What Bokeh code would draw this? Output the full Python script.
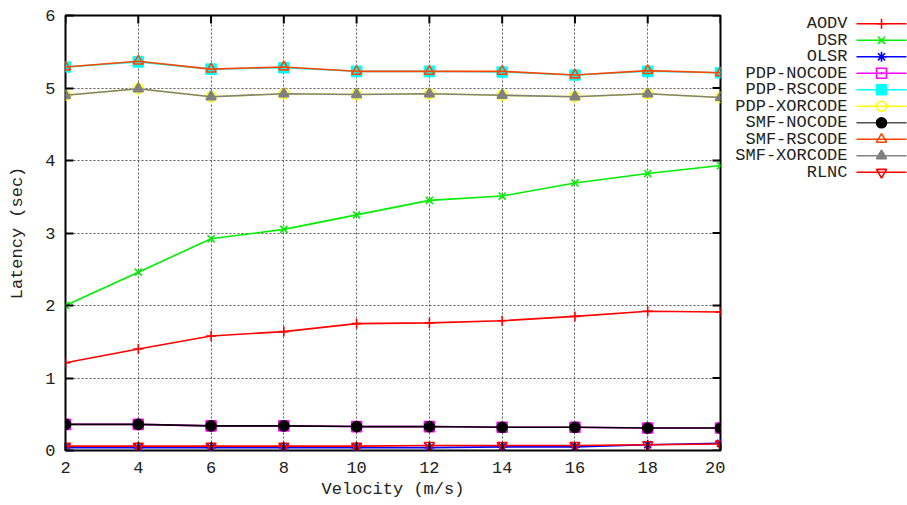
from bokeh.plotting import figure
from bokeh.models import Range1d, FixedTicker, ColumnDataSource
from bokeh.layouts import row
from bokeh.embed import file_html
from bokeh.resources import INLINE
from bokeh.core.properties import value

# ---- data ----
velocity = [2, 4, 6, 8, 10, 12, 14, 16, 18, 20]
aodv = [1.21, 1.40, 1.58, 1.64, 1.75, 1.76, 1.79, 1.85, 1.92, 1.91]
dsr = [2.00, 2.46, 2.92, 3.05, 3.25, 3.45, 3.51, 3.69, 3.82, 3.93]
olsr = [0.04, 0.04, 0.04, 0.04, 0.04, 0.04, 0.05, 0.05, 0.08, 0.10]
pdp_nocode = [0.36, 0.36, 0.34, 0.34, 0.33, 0.33, 0.32, 0.32, 0.31, 0.31]
pdp_rscode = [5.29, 5.36, 5.26, 5.28, 5.23, 5.23, 5.22, 5.18, 5.23, 5.21]
pdp_xorcode = [4.90, 4.99, 4.88, 4.92, 4.91, 4.92, 4.90, 4.88, 4.92, 4.87]
smf_nocode = [0.36, 0.36, 0.34, 0.34, 0.33, 0.33, 0.32, 0.32, 0.31, 0.31]
smf_rscode = [5.29, 5.37, 5.26, 5.29, 5.23, 5.23, 5.23, 5.18, 5.24, 5.21]
smf_xorcode = [4.90, 4.99, 4.88, 4.92, 4.91, 4.92, 4.90, 4.88, 4.92, 4.87]
rlnc = [0.06, 0.06, 0.06, 0.06, 0.06, 0.07, 0.07, 0.07, 0.08, 0.09]

x_ticks = [2, 4, 6, 8, 10, 12, 14, 16, 18, 20]
y_ticks = [0, 1, 2, 3, 4, 5, 6]

series_names = ["AODV", "DSR", "OLSR", "PDP-NOCODE", "PDP-RSCODE", "PDP-XORCODE",
                "SMF-NOCODE", "SMF-RSCODE", "SMF-XORCODE", "RLNC"]
series_values = [aodv, dsr, olsr, pdp_nocode, pdp_rscode, pdp_xorcode,
                 smf_nocode, smf_rscode, smf_xorcode, rlnc]
series_colors = ["#ff0000", "#00ee00", "#0000ff", "#ff00ff", "#00ffff", "#ffff00",
                 "#000000", "#ff4500", "#808080", "#ff0000"]
series_markers = ["cross", "x", "asterisk", "square_dot", "square", "circle",
                  "circle", "triangle", "triangle", "inverted_triangle"]
series_filled = [False, False, False, False, True, False, True, False, True, False]
legend_line_colors = ["#ff0000", "#00ee00", "#0000ff", "#ff00ff", "#00ffff", "#ffff00",
                      "#505050", "#ff4500", "#808080", "#ff0000"]

FONT = "Liberation Mono"
FS = "17px"
H = 505
TOP = 15
BOTTOM = 450

p = figure(width=725, height=H, output_backend="svg", toolbar_location=None,
           x_range=Range1d(2, 20), y_range=Range1d(0, 6),
           min_border_left=65, min_border_right=5, min_border_top=TOP,
           min_border_bottom=H - BOTTOM)
p.outline_line_color = "black"
p.outline_line_width = 2
p.background_fill_color = "white"
p.border_fill_color = "white"

for ax in [p.xaxis[0], p.yaxis[0]]:
    ax.axis_line_color = None
    ax.major_tick_in = 8
    ax.major_tick_out = 0
    ax.minor_tick_in = 0
    ax.minor_tick_out = 0
    ax.major_tick_line_color = "black"
    ax.major_tick_line_width = 2
    ax.major_label_text_font = FONT
    ax.major_label_text_font_size = FS
    ax.major_label_text_color = "#222222"
    ax.axis_label_text_font = FONT
    ax.axis_label_text_font_size = FS
    ax.axis_label_text_font_style = "normal"
    ax.axis_label_text_color = "#222222"

p.xaxis[0].ticker = FixedTicker(ticks=x_ticks)
p.yaxis[0].ticker = FixedTicker(ticks=y_ticks)
p.xaxis[0].axis_label = "Velocity (m/s)"
p.yaxis[0].axis_label = "Latency (sec)"
p.xaxis[0].major_label_standoff = 11
p.xaxis[0].axis_label_standoff = 4
p.yaxis[0].major_label_standoff = 10
p.yaxis[0].axis_label_standoff = 15

p.xgrid.ticker = FixedTicker(ticks=x_ticks)
p.ygrid.ticker = FixedTicker(ticks=y_ticks)
for g in [p.xgrid[0], p.ygrid[0]]:
    g.grid_line_color = "#333333"
    g.grid_line_dash = "2 2"
    g.grid_line_width = 1
    g.grid_line_alpha = 0.8

# mirrored ticks on top and right borders (outer half clipped by the frame)
p.rect(x=x_ticks, y=[y_ticks[-1]] * len(x_ticks), width=2, height=16,
       width_units="screen", height_units="screen", fill_color="black", line_color=None)
p.rect(x=[x_ticks[-1]] * len(y_ticks), y=y_ticks, width=16, height=2,
       width_units="screen", height_units="screen", fill_color="black", line_color=None)

for name, vals, col, mk, filled in zip(series_names, series_values, series_colors,
                                       series_markers, series_filled):
    src = ColumnDataSource(dict(x=velocity, y=vals))
    p.line("x", "y", source=src, line_color=col, line_width=1.6)
    p.scatter("x", "y", source=src, marker=mk, size=10, line_color=col, line_width=1.6,
              fill_color=col if filled else None)

# ---- legend panel (separate figure; its frame spans the same rows as the plot) ----
lw = 182
lg = figure(width=lw, height=H, output_backend="svg", toolbar_location=None,
            x_range=Range1d(0, lw), y_range=Range1d(BOTTOM, TOP),
            min_border=0, min_border_left=0, min_border_right=0,
            min_border_top=TOP, min_border_bottom=H - BOTTOM)
lg.axis.visible = False
lg.grid.visible = False
lg.outline_line_color = None

row_y = [23.3 + 16.5 * i for i in range(len(series_names))]
lsrc = ColumnDataSource(dict(label=series_names, y=row_y, tx=[122] * len(series_names)))
lg.text(x="tx", y="y", text="label", source=lsrc, text_align="right",
        text_baseline="middle", text_font=value(FONT), text_font_size=FS,
        text_color="#222222")
for i, (col, lcol, mk, filled) in enumerate(zip(series_colors, legend_line_colors,
                                               series_markers, series_filled)):
    lg.segment(x0=[131], y0=[row_y[i]], x1=[181], y1=[row_y[i]], line_color=lcol,
               line_width=1.6)
    lg.scatter(x=[156], y=[row_y[i]], marker=mk, size=10, line_color=col, line_width=1.6,
               fill_color=col if filled else None)

layout = row(p, lg)
open("out.html", "w").write(file_html(layout, INLINE))
